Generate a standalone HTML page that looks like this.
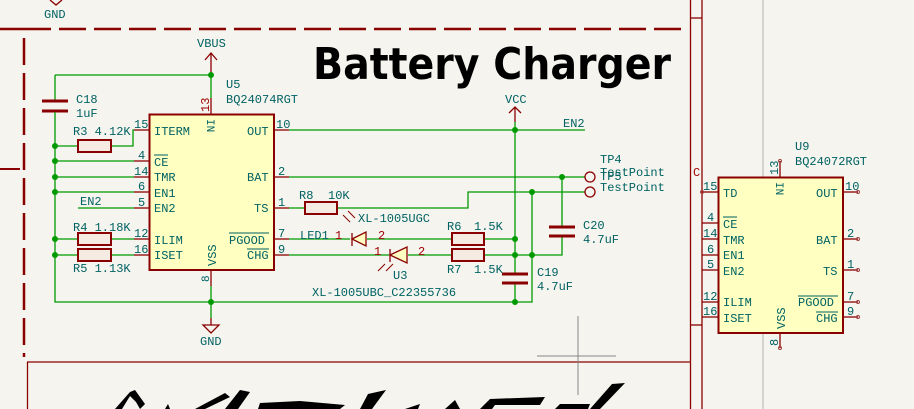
<!DOCTYPE html>
<html><head><meta charset="utf-8"><style>
html,body{margin:0;padding:0;background:#f5f4ef;}
svg{display:block;}
text{font-family:"Liberation Mono","DejaVu Sans Mono",monospace;font-size:12px;fill:#006262;}
.pn{fill:#a00000;}
.w{stroke:#009a00;stroke-width:1.3;fill:none;}
.p{stroke:#8a0000;stroke-width:1.3;fill:none;}
.b{stroke:#8a0000;stroke-width:2;fill:#ffffc2;}
.r{stroke:#8a0000;stroke-width:2;fill:#f5ebe2;}
.cap{stroke:#8a0000;stroke-width:3;}
.j{fill:#009a00;}
</style></head><body>
<svg width="914" height="409" viewBox="0 0 914 409" xmlns="http://www.w3.org/2000/svg">
<rect width="914" height="409" fill="#f5f4ef"/>
<line x1="0" y1="29" x2="683" y2="29" stroke="#8a0000" stroke-width="2.5" stroke-dasharray="51 8 27 8 27 8 27 8 27 8 27 8 27 8 27 8 27 8 27 8 27 8 27 8 27 8 27 8 27 8 27 8 27 8 27 8 27 8 27 8 27 8"/>
<line x1="24" y1="38" x2="24" y2="357" stroke="#8a0000" stroke-width="2.5" stroke-dasharray="27 8"/>
<line x1="0" y1="169" x2="20" y2="169" stroke="#8a0000" stroke-width="2"/>
<line x1="690.5" y1="0" x2="690.5" y2="409" stroke="#8a0000" stroke-width="1.3"/>
<line x1="702" y1="0" x2="702" y2="409" stroke="#8a0000" stroke-width="1.3"/>
<line x1="690" y1="18" x2="702" y2="18" stroke="#8a0000" stroke-width="1.3"/>
<line x1="690" y1="325" x2="702" y2="325" stroke="#8a0000" stroke-width="1.3"/>
<text x="693" y="176" class="pn">C</text>
<line x1="763" y1="0" x2="763" y2="409" stroke="#b4b4b4" stroke-width="1"/>
<line x1="27" y1="362" x2="690" y2="362" stroke="#8a0000" stroke-width="1.3"/>
<line x1="27.5" y1="362" x2="27.5" y2="409" stroke="#8a0000" stroke-width="1.3"/>
<line x1="578" y1="316" x2="578" y2="395" stroke="#888" stroke-width="1"/>
<line x1="537" y1="356" x2="616" y2="356" stroke="#888" stroke-width="1"/>
<path d="M50 0 L56 5 L62 0" class="p"/>
<text x="44" y="18">GND</text>
<text x="313" y="79" textLength="358" lengthAdjust="spacingAndGlyphs" style="font-family:'DejaVu Sans','Liberation Sans',sans-serif;font-weight:bold;font-size:44px;fill:#000;">Battery Charger</text>
<g fill="#000">
<path d="M115 409 L130 392 L135 390 L145 404 L140 409 L136 402 L130 396 L122 409Z"/>
<path d="M165 409 L168 404 L170 409Z"/>
<path d="M195 409 L225 393 L230 397 L205 409Z"/>
<path d="M225 409 L240 390 L250 392 L238 409Z"/>
<path d="M260 403 L300 401 L305 409 L258 409Z"/>
<path d="M300 401 L345 405 L340 409 L300 409Z"/>
<path d="M360 409 L368 394 L386 390 L372 409Z"/>
<path d="M405 409 L420 404 L418 409Z"/>
<path d="M445 409 L455 400 L460 409Z"/>
<path d="M480 409 L490 399 L545 397 L540 405 L495 405 L492 409Z"/>
<path d="M555 409 L560 404 L590 404 L588 409Z"/>
<path d="M590 409 L612 384 L625 383 L600 409Z"/>
</g>
<text x="197" y="47">VBUS</text>
<path d="M205 60 L211 53 L217 60 M211 53 L211 75" class="p"/>
<path d="M55 75 L211 75 L211 98" class="w"/>
<line x1="211" y1="98" x2="211" y2="114" class="p"/>
<text x="209" y="112" class="pn" transform="rotate(-90 209 112)">13</text>
<circle cx="211" cy="75" r="3" class="j"/>
<line x1="55" y1="75" x2="55" y2="100" class="w"/>
<line x1="42" y1="101" x2="68" y2="101" class="cap"/>
<line x1="42" y1="111" x2="68" y2="111" class="cap"/>
<path d="M55 112 L55 302 L515 302" class="w"/>
<text x="76" y="103">C18</text>
<text x="76" y="117">1uF</text>
<text x="226" y="88">U5</text>
<text x="226" y="103">BQ24074RGT</text>
<rect x="149.5" y="114.5" width="124.5" height="155.5" class="b"/>
<text x="207" y="119" transform="rotate(90 207 119)" style="font-size:11px">IN</text>
<text x="216" y="266" transform="rotate(-90 216 266)">VSS</text>
<g class="p">
<line x1="134" y1="130" x2="149" y2="130"/><line x1="134" y1="161" x2="149" y2="161"/>
<line x1="134" y1="177" x2="149" y2="177"/><line x1="134" y1="192" x2="149" y2="192"/>
<line x1="134" y1="208" x2="149" y2="208"/><line x1="134" y1="239" x2="149" y2="239"/>
<line x1="134" y1="255" x2="149" y2="255"/>
<line x1="274" y1="130" x2="289" y2="130"/><line x1="274" y1="177" x2="289" y2="177"/>
<line x1="274" y1="208" x2="289" y2="208"/><line x1="274" y1="239" x2="289" y2="239"/>
<line x1="274" y1="255" x2="289" y2="255"/>
<line x1="211" y1="270" x2="211" y2="286"/>
</g>
<g class="pn">
<text x="134" y="128">15</text><text x="138" y="159">4</text><text x="134" y="175">14</text>
<text x="138" y="190">6</text><text x="138" y="206">5</text><text x="134" y="237">12</text>
<text x="134" y="253">16</text>
<text x="276" y="128">10</text><text x="278" y="175">2</text><text x="278" y="206">1</text>
<text x="278" y="237">7</text><text x="278" y="253">9</text>
<text x="209" y="282" transform="rotate(-90 209 282)" style="font-size:11px">8</text>
</g>
<g>
<text x="154" y="135">ITERM</text>
<text x="154" y="166">CE</text><line x1="154" y1="155" x2="168" y2="155" stroke="#006262" stroke-width="1"/>
<text x="154" y="181">TMR</text><text x="154" y="197">EN1</text><text x="154" y="212">EN2</text>
<text x="154" y="244">ILIM</text><text x="154" y="259">ISET</text>
<text x="247" y="135">OUT</text><text x="247" y="181">BAT</text><text x="254" y="212">TS</text>
<text x="229" y="244">PGOOD</text><line x1="229" y1="233" x2="269" y2="233" stroke="#006262" stroke-width="1"/>
<text x="247" y="259">CHG</text><line x1="247" y1="249" x2="269" y2="249" stroke="#006262" stroke-width="1"/>
</g>
<path d="M55 146 L78 146 M111 146 L133 146 L133 130 L134 130" class="w"/>
<rect x="78" y="140" width="33" height="12" class="r"/>
<text x="73" y="135">R3 4.12K</text>
<path d="M55 161 L134 161 M55 177 L134 177 M55 192 L134 192 M78 208 L134 208" class="w"/>
<text x="80" y="205">EN2</text>
<path d="M55 239 L78 239 M111 239 L134 239 M55 255 L78 255 M111 255 L134 255" class="w"/>
<rect x="78" y="233" width="33" height="12" class="r"/>
<rect x="78" y="249" width="33" height="12" class="r"/>
<text x="73" y="231">R4 1.18K</text>
<text x="73" y="272">R5 1.13K</text>
<g class="j"><circle cx="55" cy="146" r="3"/><circle cx="55" cy="161" r="3"/><circle cx="55" cy="177" r="3"/><circle cx="55" cy="192" r="3"/><circle cx="55" cy="239" r="3"/><circle cx="55" cy="255" r="3"/></g>
<path d="M211 286 L211 302 L211 318" class="w"/>
<circle cx="211" cy="302" r="3" class="j"/>
<path d="M211 318 L211 325 M203 325 L219 325 L211 333 Z" class="p"/>
<text x="200" y="345">GND</text>
<path d="M289 130 L585 130" class="w"/>
<text x="563" y="127">EN2</text>
<text x="505" y="103">VCC</text>
<path d="M509 113 L515 107 L521 113 M515 107 L515 122" class="p"/>
<path d="M515 122 L515 273 M515 283 L515 302 L532 302 L532 192" class="w"/>
<line x1="502" y1="274" x2="528" y2="274" class="cap"/>
<line x1="502" y1="283" x2="528" y2="283" class="cap"/>
<text x="537" y="276">C19</text><text x="537" y="290">4.7uF</text>
<path d="M289 177 L585 177" class="w"/>
<circle cx="590" cy="177" r="5" class="p"/>
<path d="M562 177 L562 227 M562 237 L562 255 L532 255" class="w"/>
<line x1="549" y1="227" x2="575" y2="227" class="cap"/>
<line x1="549" y1="236" x2="575" y2="236" class="cap"/>
<text x="583" y="229">C20</text><text x="583" y="243">4.7uF</text>
<path d="M289 208 L305 208 M337 208 L468 208 L468 192 L585 192" class="w"/>
<circle cx="590" cy="192" r="5" class="p"/>
<rect x="305" y="202" width="32" height="12" class="r"/>
<text x="299" y="199">R8</text><text x="328" y="199">10K</text>
<text x="600" y="163">TP4</text>
<text x="600" y="176">TestPoint</text>
<text x="600" y="180">TP5</text>
<text x="600" y="191">TestPoint</text>
<path d="M289 239 L350 239 M367 239 L452 239 M484 239 L515 239" class="w"/>
<path d="M352 233 L352 246 M352 239 L366 232 L366 246 Z" stroke="#8a0000" stroke-width="1.3" fill="#ffffc2"/>
<path d="M289 255 L389 255 M408 255 L452 255 M484 255 L532 255" class="w"/>
<path d="M390 249 L390 262 M390 255 L407 247 L407 263 Z" stroke="#8a0000" stroke-width="1.3" fill="#ffffc2"/>
<path d="M350 222 L343 215 M355 218 L348 211 M385 264 L378 271 M393 264 L386 271" stroke="#8a0000" stroke-width="1"/>
<rect x="452" y="233" width="32" height="12" class="r"/>
<rect x="452" y="249" width="32" height="12" class="r"/>
<text x="300" y="239">LED1</text><text x="335" y="239" class="pn">1</text><text x="378" y="239" class="pn">2</text>
<text x="374" y="255" class="pn">1</text><text x="418" y="255" class="pn">2</text>
<text x="358" y="222">XL-1005UGC</text>
<text x="393" y="279">U3</text>
<text x="312" y="296">XL-1005UBC_C22355736</text>
<text x="447" y="230">R6</text><text x="474" y="230">1.5K</text>
<text x="447" y="273">R7</text><text x="474" y="273">1.5K</text>
<g class="j"><circle cx="515" cy="130" r="3"/><circle cx="562" cy="177" r="3"/><circle cx="532" cy="192" r="3"/><circle cx="515" cy="239" r="3"/><circle cx="515" cy="255" r="3"/><circle cx="532" cy="255" r="3"/><circle cx="515" cy="302" r="3"/></g>
<text x="795" y="150">U9</text>
<text x="795" y="165">BQ24072RGT</text>
<rect x="718.5" y="177.5" width="124.5" height="155.5" class="b"/>
<g class="p">
<line x1="702" y1="192" x2="718" y2="192"/><line x1="702" y1="223" x2="718" y2="223"/>
<line x1="702" y1="239" x2="718" y2="239"/><line x1="702" y1="255" x2="718" y2="255"/>
<line x1="702" y1="270" x2="718" y2="270"/><line x1="702" y1="302" x2="718" y2="302"/>
<line x1="702" y1="317" x2="718" y2="317"/>
<line x1="843" y1="192" x2="858" y2="192"/><line x1="843" y1="239" x2="858" y2="239"/>
<line x1="843" y1="270" x2="858" y2="270"/><line x1="843" y1="302" x2="858" y2="302"/>
<line x1="843" y1="317" x2="858" y2="317"/>
<line x1="780" y1="161" x2="780" y2="177"/><line x1="780" y1="333" x2="780" y2="348"/>
</g>
<g class="pn">
<text x="703" y="190">15</text><text x="707" y="221">4</text><text x="703" y="237">14</text>
<text x="707" y="253">6</text><text x="707" y="268">5</text><text x="703" y="300">12</text><text x="703" y="315">16</text>
<text x="845" y="190">10</text><text x="847" y="237">2</text><text x="847" y="268">1</text>
<text x="847" y="300">7</text><text x="847" y="315">9</text>
<text x="778" y="175" transform="rotate(-90 778 175)">13</text>
<text x="778" y="346" transform="rotate(-90 778 346)">8</text>
</g>
<g>
<text x="723" y="197">TD</text>
<text x="723" y="228">CE</text><line x1="723" y1="217" x2="737" y2="217" stroke="#006262"/>
<text x="723" y="244">TMR</text><text x="723" y="259">EN1</text><text x="723" y="275">EN2</text>
<text x="723" y="306">ILIM</text><text x="723" y="322">ISET</text>
<text x="816" y="197">OUT</text><text x="816" y="244">BAT</text><text x="823" y="275">TS</text>
<text x="798" y="306">PGOOD</text><line x1="798" y1="296" x2="838" y2="296" stroke="#006262"/>
<text x="816" y="322">CHG</text><line x1="816" y1="312" x2="838" y2="312" stroke="#006262"/>
<text x="776" y="182" transform="rotate(90 776 182)" style="font-size:11px">IN</text>
<text x="785" y="329" transform="rotate(-90 785 329)">VSS</text>
</g>
<g fill="none" stroke="#a04040" stroke-width="1"><circle cx="702" cy="192" r="1.5"/><circle cx="858" cy="192" r="1.5"/><circle cx="858" cy="239" r="1.5"/><circle cx="858" cy="270" r="1.5"/><circle cx="858" cy="302" r="1.5"/><circle cx="858" cy="317" r="1.5"/><circle cx="780" cy="161" r="1.5"/><circle cx="780" cy="348" r="1.5"/></g>
</svg>
</body></html>
